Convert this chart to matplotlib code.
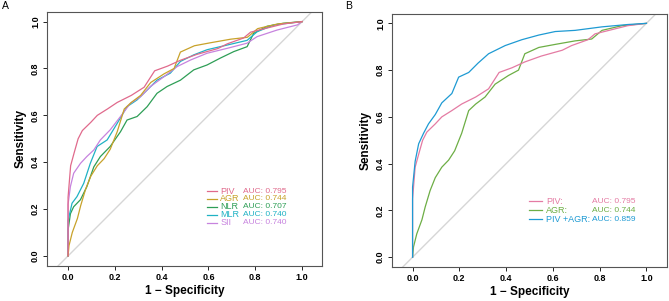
import matplotlib
matplotlib.use("Agg")
import matplotlib.pyplot as plt

plt.rcParams['font.family'] = ['Liberation Sans', 'DejaVu Sans']

# ---- data ----
piv_fpr = [0, 0, 0.011, 0.026, 0.043, 0.061, 0.097, 0.125, 0.168, 0.21, 0.27, 0.325, 0.37, 0.425, 0.48, 0.55, 0.64, 0.68, 0.75, 0.78, 0.84, 0.92, 1.0]
piv_tpr = [0, 0.25, 0.385, 0.44, 0.50, 0.535, 0.57, 0.60, 0.627, 0.655, 0.685, 0.72, 0.79, 0.81, 0.835, 0.86, 0.885, 0.905, 0.93, 0.955, 0.97, 0.99, 1.0]

agr_fpr = [0, 0.004, 0.018, 0.04, 0.054, 0.075, 0.097, 0.125, 0.154, 0.18, 0.21, 0.24, 0.27, 0.31, 0.353, 0.41, 0.453, 0.48, 0.54, 0.61, 0.695, 0.766, 0.81, 0.895, 1.0]
agr_tpr = [0, 0.044, 0.10, 0.16, 0.215, 0.285, 0.34, 0.385, 0.415, 0.455, 0.53, 0.627, 0.655, 0.685, 0.74, 0.777, 0.80, 0.87, 0.897, 0.91, 0.925, 0.933, 0.97, 0.99, 1.0]

nlr_fpr = [0, 0, 0.01, 0.024, 0.053, 0.08, 0.11, 0.138, 0.18, 0.224, 0.252, 0.295, 0.338, 0.38, 0.423, 0.48, 0.537, 0.594, 0.65, 0.708, 0.765, 0.793, 0.85, 0.92, 1.0]
nlr_tpr = [0, 0.11, 0.18, 0.21, 0.24, 0.295, 0.38, 0.424, 0.467, 0.53, 0.58, 0.595, 0.637, 0.694, 0.723, 0.75, 0.794, 0.815, 0.844, 0.872, 0.893, 0.95, 0.98, 0.993, 1.0]

mlr_fpr = [0, 0, 0.017, 0.038, 0.067, 0.095, 0.124, 0.167, 0.21, 0.252, 0.295, 0.338, 0.38, 0.437, 0.48, 0.537, 0.594, 0.68, 0.765, 0.808, 0.88, 1.0]
mlr_tpr = [0, 0.15, 0.225, 0.253, 0.31, 0.395, 0.467, 0.495, 0.566, 0.637, 0.666, 0.708, 0.75, 0.78, 0.83, 0.858, 0.88, 0.90, 0.92, 0.957, 0.986, 1.0]

sii_fpr = [0, 0, 0.01, 0.024, 0.053, 0.08, 0.11, 0.138, 0.18, 0.224, 0.266, 0.31, 0.352, 0.41, 0.466, 0.523, 0.594, 0.68, 0.765, 0.808, 0.893, 0.98, 1.0]
sii_tpr = [0, 0.22, 0.296, 0.353, 0.395, 0.424, 0.452, 0.495, 0.538, 0.595, 0.651, 0.68, 0.723, 0.765, 0.808, 0.836, 0.865, 0.886, 0.908, 0.936, 0.964, 0.986, 1.0]

comb_fpr = [0, 0, 0.011, 0.026, 0.047, 0.068, 0.097, 0.125, 0.168, 0.197, 0.24, 0.28, 0.325, 0.396, 0.467, 0.54, 0.61, 0.695, 0.81, 0.92, 1.0]
comb_tpr = [0, 0.30, 0.41, 0.485, 0.53, 0.57, 0.61, 0.66, 0.70, 0.77, 0.79, 0.83, 0.87, 0.905, 0.93, 0.95, 0.965, 0.97, 0.985, 0.995, 1.0]

names_a = ["PIV", "AGR", "NLR", "MLR", "SII"]
auc_a = ["0.795", "0.744", "0.707", "0.740", "0.740"]
names_b = ["PIV:", "AGR:", "PIV +AGR:"]
auc_b = ["0.795", "0.744", "0.859"]
ticks = [0.0, 0.2, 0.4, 0.6, 0.8, 1.0]

cols_a = ["#E06A8C", "#C8A22A", "#2E9E56", "#1FB2C4", "#C783DE"]
cols_b = ["#E47BA3", "#6DAE45", "#1E9AD3"]

fig = plt.figure(figsize=(6.69, 3.01), dpi=100)
W, H = 669, 301


def make_ax(left, top, right, bottom):
    return fig.add_axes([left / W, 1 - bottom / H, (right - left) / W, (bottom - top) / H])


def style(ax, xlim, ylim):
    ax.set_xlim(*xlim)
    ax.set_ylim(*ylim)
    ax.plot([-0.2, 1.3], [-0.2, 1.3], color="#D6D6D6", lw=1.0, zorder=1)
    ax.set_xticks(ticks)
    ax.set_yticks(ticks)
    ax.set_xticklabels([f"{t:.1f}" for t in ticks], fontsize=6.5, fontweight="bold")
    ax.set_yticklabels([f"{t:.1f}" for t in ticks], fontsize=6.5, fontweight="bold",
                       rotation=90, va="center")
    ax.tick_params(length=3, width=0.6, pad=2)
    for s in ax.spines.values():
        s.set_linewidth(0.8)
        s.set_color("#555555")
    ax.set_xlabel("1 \u2212 Specificity", fontsize=8.5, fontweight="bold", labelpad=2)
    ax.set_ylabel("Sensitivity", fontsize=8.5, fontweight="bold", labelpad=3)


# Panel A
axA = make_ax(47, 12, 322, 266)
style(axA, (-0.09, 1.085), (-0.043, 1.041))
curves_a = [(piv_fpr, piv_tpr), (agr_fpr, agr_tpr), (nlr_fpr, nlr_tpr), (mlr_fpr, mlr_tpr), (sii_fpr, sii_tpr)]
order = [2, 3, 4, 1, 0]
for i in order:
    f, t = curves_a[i]
    axA.plot(f, t, color=cols_a[i], lw=0.9, zorder=3)
ly = [0.277, 0.243, 0.209, 0.175, 0.141]
for i in range(5):
    axA.plot([0.594, 0.637], [ly[i], ly[i]], color=cols_a[i], lw=0.9)
    axA.text(0.651, ly[i], names_a[i], color=cols_a[i], fontsize=6.5, va="center")
    axA.text(0.746, ly[i], "AUC: " + auc_a[i], color=cols_a[i], fontsize=6, va="center")

# Panel B
axB = make_ax(392, 14, 667, 267)
style(axB, (-0.088, 1.088), (-0.042, 1.04))
curves_b = [(piv_fpr, piv_tpr), (agr_fpr, agr_tpr), (comb_fpr, comb_tpr)]
for i in [1, 0, 2]:
    f, t = curves_b[i]
    axB.plot(f, t, color=cols_b[i], lw=0.9, zorder=3)
lyb = [0.239, 0.20, 0.162]
for i in range(3):
    axB.plot([0.50, 0.553], [lyb[i], lyb[i]], color=cols_b[i], lw=0.9)
    axB.text(0.57, lyb[i], names_b[i], color=cols_b[i], fontsize=6.5, va="center")
    axB.text(0.766, lyb[i], "AUC: " + auc_b[i], color=cols_b[i], fontsize=6, va="center")

fig.text(2 / W, 1 - 6 / H, "A", fontsize=7.5, va="center", ha="left")
fig.text(345 / W, 1 - 6 / H, "B", fontsize=7.5, va="center", ha="left")

fig.savefig("out.png", dpi=100)
